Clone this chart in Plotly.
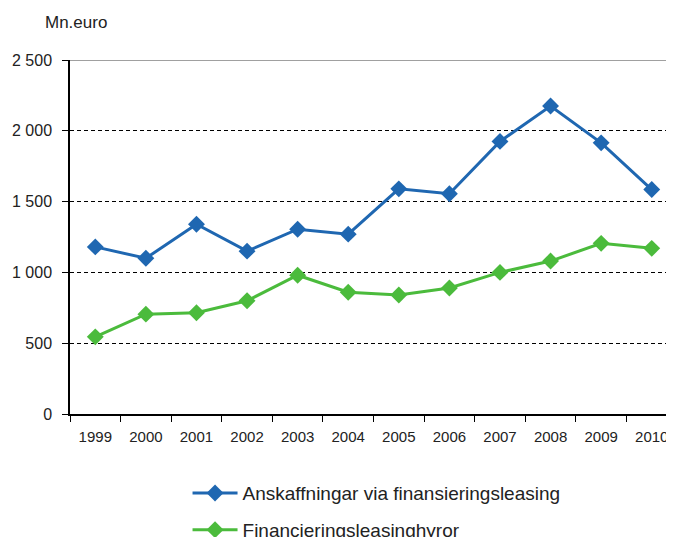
import plotly.graph_objects as go

years = ["1999", "2000", "2001", "2002", "2003", "2004", "2005", "2006", "2007", "2008", "2009", "2010"]
anskaffningar = [1180, 1100, 1340, 1150, 1305, 1270, 1590, 1555, 1925, 2175, 1915, 1585]
hyror = [545, 705, 715, 800, 980, 860, 840, 890, 1000, 1080, 1205, 1170]
y_ticks = [0, 500, 1000, 1500, 2000, 2500]
y_ticklabels = ["0", "500", "1 000", "1 500", "2 000", "2 500"]

name_a = "Anskaffningar via finansieringsleasing"
name_h = "Financieringsleasinghyror"
blue = "#1f67b1"
green = "#4bbb3c"
font = "Liberation Sans"

fig = go.Figure()
fig.add_trace(go.Scatter(x=years, y=anskaffningar, name=name_a, mode="lines+markers",
                         line=dict(color=blue, width=3),
                         marker=dict(symbol="diamond", size=13, color=blue),
                         legendgroup="a"))
fig.add_trace(go.Scatter(x=years, y=hyror, name=name_h, mode="lines+markers",
                         line=dict(color=green, width=3),
                         marker=dict(symbol="diamond", size=13, color=green),
                         legendgroup="h"))

fig.update_layout(
    width=666, height=529,
    margin=dict(l=62, r=0, t=52, b=123, autoexpand=False),
    plot_bgcolor="white", paper_bgcolor="white",
    font=dict(family=font, size=15, color="#222222"),
    showlegend=True,
    legend=dict(x=0.1946, y=-0.170, xanchor="left", yanchor="top",
                font=dict(size=19, color="#222222"), tracegroupgap=9,
                itemwidth=45, bgcolor="rgba(0,0,0,0)"),
    xaxis=dict(type="category", range=[-0.5, 11.44],
               showline=True, linecolor="black", linewidth=1.5,
               ticks="outside", ticklen=6, tickcolor="black",
               tickson="boundaries", showgrid=False, ticklabelstandoff=8,
               tickfont=dict(size=15)),
    yaxis=dict(range=[0, 2500], tickvals=y_ticks, ticktext=y_ticklabels,
               showline=True, linecolor="black", linewidth=1.5,
               ticks="outside", ticklen=6, tickcolor="black",
               showgrid=True, gridcolor="black", gridwidth=1, griddash="4px,3px",
               zeroline=False, ticklabelstandoff=7, tickfont=dict(size=16)),
    annotations=[dict(text="Mn.euro", xref="paper", yref="paper",
                      x=-0.045, y=1.107, xanchor="left", yanchor="middle",
                      showarrow=False, font=dict(size=17))],
    shapes=[dict(type="line", xref="paper", yref="y", x0=0, x1=1, y0=2500, y1=2500,
                 line=dict(color="#a0a0a0", width=2), layer="above")],
)

fig.write_html("out.html")
